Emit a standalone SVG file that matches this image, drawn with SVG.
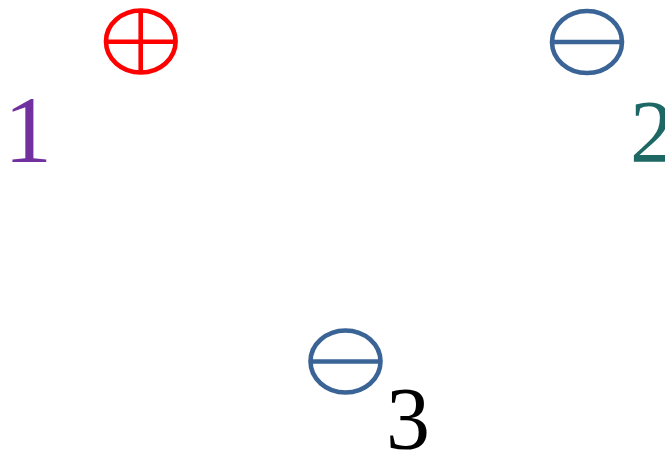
<svg xmlns="http://www.w3.org/2000/svg" width="665" height="450" viewBox="0 0 665 450">
<style>
.sym{fill:none;stroke-width:4.6}
.red{stroke:#FF0000}
.blue{stroke:#3A6396}
.lbl{font-family:"Liberation Serif","Times New Roman",serif}
</style>
<rect width="665" height="450" fill="#fff"/>
<g id="node1">
<ellipse class="sym red" cx="140.8" cy="41.5" rx="34.8" ry="31"/>
<line class="sym red" x1="106" y1="41.7" x2="175.6" y2="41.7"/>
<line class="sym red" x1="140.7" y1="10.5" x2="140.7" y2="72.5"/>
<text class="lbl" x="4" y="162" font-size="96" fill="#7030A0">1</text>
</g>
<g id="node2">
<ellipse class="sym blue" cx="587" cy="42" rx="35" ry="31"/>
<line class="sym blue" x1="552" y1="42" x2="622" y2="42"/>
<text class="lbl" x="630" y="161" font-size="88" fill="#1D6864">2</text>
</g>
<g id="node3">
<ellipse class="sym blue" cx="345.5" cy="361.5" rx="35" ry="31"/>
<line class="sym blue" x1="310.5" y1="361.5" x2="380.5" y2="361.5"/>
<text class="lbl" x="386" y="448" font-size="88" fill="#000">3</text>
</g>
<g id="connectors"/>
</svg>
